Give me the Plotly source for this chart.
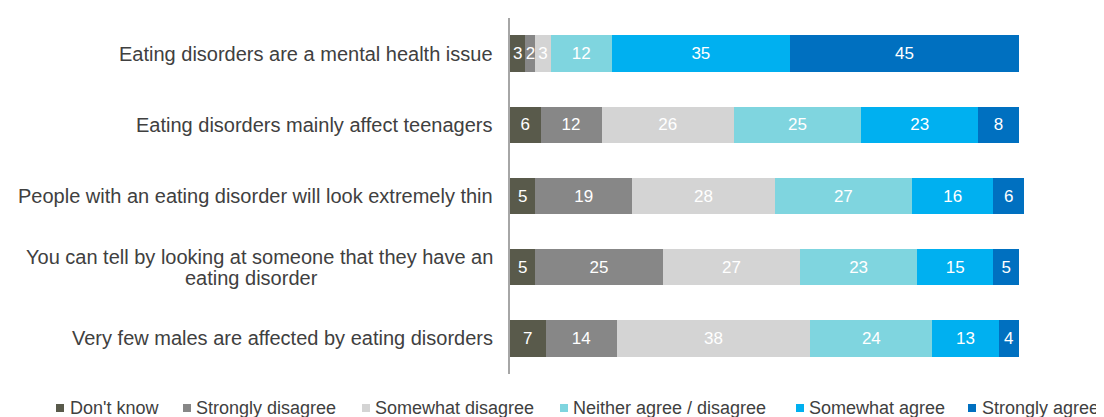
import plotly.graph_objects as go

categories = [
    "Eating disorders are a mental health issue",
    "Eating disorders mainly affect teenagers",
    "People with an eating disorder will look extremely thin",
    "You can tell by looking at someone that they have an eating disorder",
    "Very few males are affected by eating disorders",
]
label_lines = [
    ["Eating disorders are a mental health issue"],
    ["Eating disorders mainly affect teenagers"],
    ["People with an eating disorder will look extremely thin"],
    ["You can tell by looking at someone that they have an", "eating disorder"],
    ["Very few males are affected by eating disorders"],
]
series_names = ["Don't know", "Strongly disagree", "Somewhat disagree",
                "Neither agree / disagree", "Somewhat agree", "Strongly agree"]
dont_know = [3, 6, 5, 5, 7]
strongly_disagree = [2, 12, 19, 25, 14]
somewhat_disagree = [3, 26, 28, 27, 38]
neither = [12, 25, 27, 23, 24]
somewhat_agree = [35, 23, 16, 15, 13]
strongly_agree = [45, 8, 6, 5, 4]

series_values = [dont_know, strongly_disagree, somewhat_disagree,
                 neither, somewhat_agree, strongly_agree]
colors = ["#595A4B", "#878787", "#D4D4D4", "#7FD5DF", "#00B0F0", "#0070C0"]

FONT = "Liberation Sans, Arial, sans-serif"
TXT = "#404040"

W, H = 1104, 417
L, T, R, B = 502, 10, 88, 51
PW, PH = W - L - R, H - T - B


def px_x(px):
    return (px - L) / PW


def px_y(py):
    return (T + PH - py) / PH


fig = go.Figure()
for name, vals, col in zip(series_names, series_values, colors):
    fig.add_trace(go.Bar(
        y=categories, x=vals, name=name, orientation="h",
        marker=dict(color=col, line=dict(width=0)),
        text=[str(v) for v in vals], textposition="inside",
        insidetextanchor="middle", textangle=0, constraintext="none",
        textfont=dict(color="white", size=17, family=FONT),
        hoverinfo="skip", showlegend=False,
    ))

# category labels
for c, lines in zip(categories, label_lines):
    if len(lines) == 1:
        fig.add_annotation(
            xref="paper", yref="y", x=0, y=c, text=lines[0], showarrow=False,
            xanchor="right", xshift=-15,
            font=dict(size=20, color=TXT, family=FONT),
        )
    else:
        fig.add_annotation(
            xref="paper", yref="y", x=0, y=c, text=lines[0], showarrow=False,
            xanchor="right", xshift=-15, yshift=10.5,
            font=dict(size=20, color=TXT, family=FONT),
        )
        fig.add_annotation(
            xref="paper", yref="y", x=px_x(243), y=c, text=lines[1],
            showarrow=False, xanchor="center", yshift=-10.5,
            font=dict(size=20, color=TXT, family=FONT),
        )

# legend (bottom row)
legend_marker_px = [48, 175, 354, 552, 788, 960]
legend_text_px = [62, 188, 367, 565, 801, 974]
leg_y = 400
for name, col, mx, tx in zip(series_names, colors, legend_marker_px, legend_text_px):
    fig.add_shape(
        type="rect", xref="paper", yref="paper",
        x0=px_x(mx), x1=px_x(mx + 8), y0=px_y(leg_y + 4), y1=px_y(leg_y - 4),
        fillcolor=col, line=dict(width=0),
    )
    fig.add_annotation(
        xref="paper", yref="paper", x=px_x(tx - 2), y=px_y(leg_y), text=name,
        showarrow=False, xanchor="left", yanchor="middle",
        font=dict(size=18, color=TXT, family=FONT),
    )

fig.update_layout(
    width=W, height=H,
    barmode="stack", bargap=0.49,
    plot_bgcolor="white", paper_bgcolor="white",
    margin=dict(l=L, r=R, t=T, b=B),
    font=dict(family=FONT, size=16, color=TXT),
    uniformtext=dict(minsize=17, mode="show"),
    showlegend=False,
    xaxis=dict(range=[0, 101], showgrid=False, showticklabels=False,
               zeroline=False, showline=False, fixedrange=True),
    yaxis=dict(autorange="reversed", showticklabels=False, showgrid=False,
               showline=True, linecolor="#A6A6A6", linewidth=1.5,
               ticks="", zeroline=False),
)

fig.write_html("out.html")
